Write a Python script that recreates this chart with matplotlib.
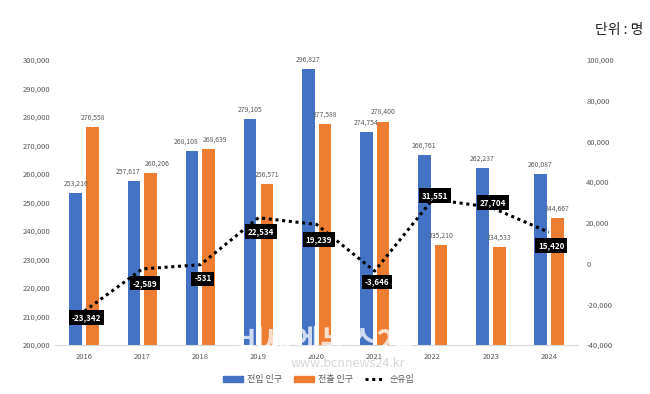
import numpy as np
import matplotlib
matplotlib.use("Agg")
import matplotlib.pyplot as plt
from matplotlib.lines import Line2D
from matplotlib.patches import Patch

plt.rcParams['font.family'] = ['Noto Sans CJK KR', 'DejaVu Sans']

years = ['2016', '2017', '2018', '2019', '2020', '2021', '2022', '2023', '2024']
move_in = [253216, 257617, 268108, 279105, 296827, 274754, 266761, 262237, 260087]
move_out = [276558, 260206, 268639, 256571, 277588, 278400, 235210, 234533, 244667]
net_in = [-23342, -2589, -531, 22534, 19239, -3646, 31551, 27704, 15420]

blue = '#4472C4'
orange = '#ED7D31'
gray = '#595959'

fig = plt.figure(figsize=(6.5, 3.94), dpi=100)
ax = fig.add_axes([0.085, 0.124, 0.804, 0.724])
ax2 = ax.twinx()

x = np.arange(len(years))
w = 0.22
gap = 0.035
b1 = ax.bar(x - w / 2 - gap, move_in, w, color=blue)
b2 = ax.bar(x + w / 2 + gap, move_out, w, color=orange)

ax.set_ylim(200000, 300000)
ax.set_yticks(np.arange(200000, 300001, 10000))
ax.set_yticklabels([f'{v:,}' for v in range(200000, 300001, 10000)])
ax.set_xlim(-0.5, len(years) - 0.5)
ax.set_xticks(x)
ax.set_xticklabels(years)

for i, (r1, r2) in enumerate(zip(b1, b2)):
    v1, v2 = move_in[i], move_out[i]
    # push the two labels apart when the bars are about the same height
    nudge = 0.11 if abs(v1 - v2) < 3000 else 0
    ax.text(r1.get_x() + r1.get_width() / 2 - nudge, v1 + 1900, f'{v1:,}',
            ha='center', va='bottom', fontsize=4.9, color=gray)
    ax.text(r2.get_x() + r2.get_width() / 2 + nudge, v2 + 1900, f'{v2:,}',
            ha='center', va='bottom', fontsize=4.9, color=gray)

ax2.plot(x, net_in, color='black', linestyle=(0, (1, 1.2)), linewidth=2.2)
ax2.set_ylim(-40000, 100000)
ax2.set_yticks(np.arange(-40000, 100001, 20000))
ax2.set_yticklabels([f'{v:,}' for v in range(-40000, 100001, 20000)])

# label offsets from the points (right axis units)
offsets = [-3000, -7000, -7000, -6800, -7500, -5400, 1900, 2300, -6600]
for xi, v, off in zip(x, net_in, offsets):
    ax2.text(xi + 0.04, v + off, f'{v:,}', ha='center', va='center', fontsize=5.8,
             color='white', fontweight='bold',
             bbox=dict(boxstyle='square,pad=0.35', fc='black', ec='none'))

for a in (ax, ax2):
    for s in ('top', 'left', 'right'):
        a.spines[s].set_visible(False)
    a.tick_params(length=0, labelsize=5.5, colors=gray)
ax.spines['bottom'].set_color('#D9D9D9')
ax2.spines['bottom'].set_visible(False)
ax.tick_params(axis='x', pad=6)
ax2.tick_params(axis='y', pad=6)

fig.text(0.99, 0.925, '단위 : 명', ha='right', va='center', fontsize=10, color='#222222')

handles = [Patch(color=blue), Patch(color=orange),
           Line2D([0], [0], color='black', linestyle=(0, (1, 1.2)), linewidth=2.2)]
fig.legend(handles, ['전입 인구', '전출 인구', '순유입'], loc='center',
           bbox_to_anchor=(0.49, 0.036), ncol=3, frameon=False, fontsize=6.5,
           handlelength=2.2, handleheight=0.6, handletextpad=0.5,
           columnspacing=1.3, labelcolor=gray)

fig.text(0.5, 0.13, '비씨엔뉴스24', ha='center', va='center', fontsize=22,
         fontweight='bold', color='white', alpha=0.75)
fig.text(0.535, 0.077, 'www.bcnnews24.kr', ha='center', va='center', fontsize=9,
         color='#BBBBBB', alpha=0.6)

fig.savefig('out.png', dpi=100)
